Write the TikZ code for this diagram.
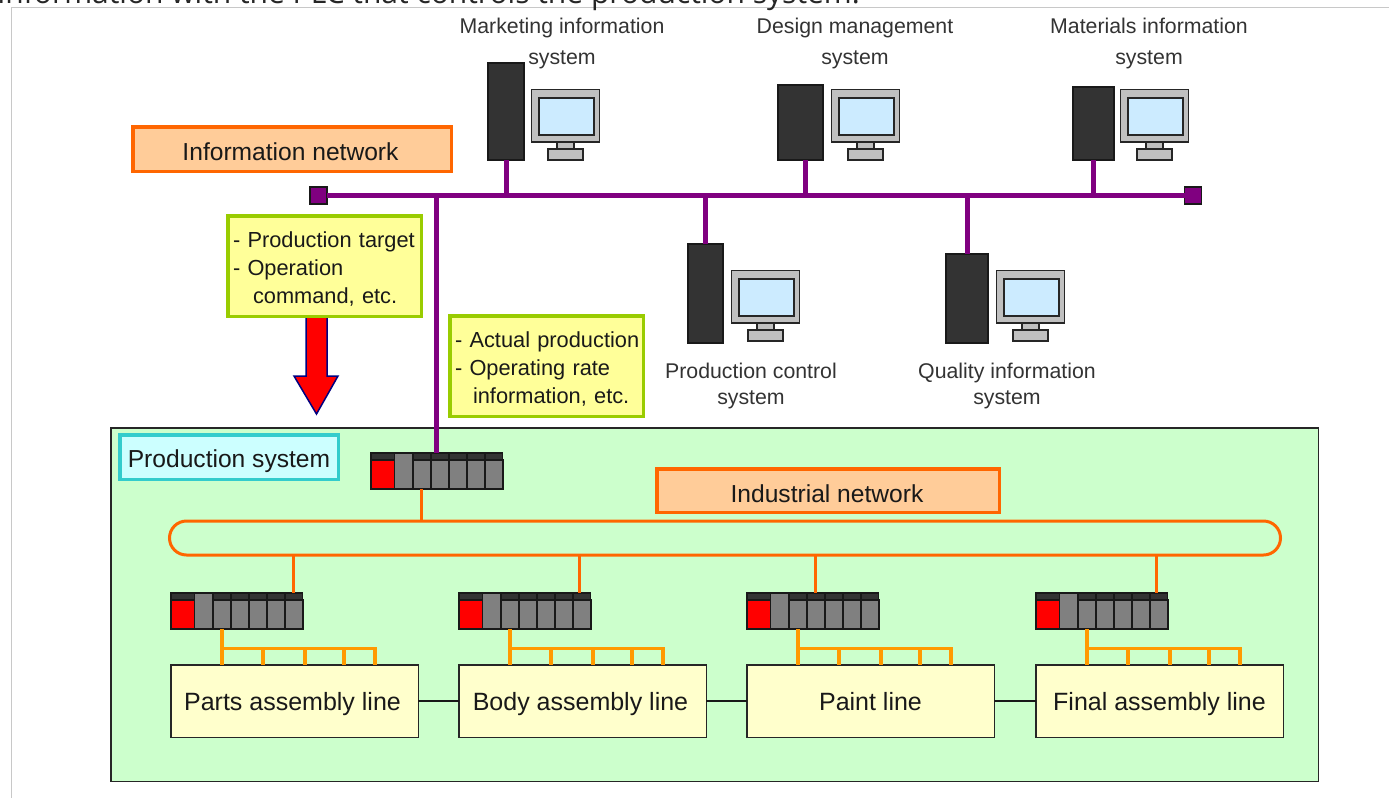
\documentclass[tikz,border=0pt]{standalone}
\usepackage{fontspec}
\setmainfont{Liberation Sans}
\newfontfamily\headfont{Open Sans}
\definecolor{busPurple}{HTML}{800080}
\definecolor{netOrange}{HTML}{FF6600}
\definecolor{tapOrange}{HTML}{FF9900}
\definecolor{netFill}{HTML}{FFCC99}
\definecolor{noteEdge}{HTML}{99CC00}
\definecolor{noteFill}{HTML}{FFFF99}
\definecolor{sysFill}{HTML}{CCFFCC}
\definecolor{tagEdge}{HTML}{33CCCC}
\definecolor{tagFill}{HTML}{CCFFFF}
\definecolor{lineFill}{HTML}{FFFFCC}
\definecolor{screenFill}{HTML}{CCEBFF}
\definecolor{darkBody}{HTML}{333333}
\definecolor{moduleGray}{HTML}{808080}
\definecolor{bodyGray}{HTML}{C0C0C0}
\definecolor{frameGray}{HTML}{C8C8C8}
\tikzset{
  sized/.style n args={2}{minimum width=#1pt,minimum height=#2pt,inner sep=0pt,outer sep=0pt,rectangle},
  bigtext/.style={font=\fontsize{24.6}{28}\selectfont,text=black!90},
  nettag/.style={draw=netOrange,line width=3.5pt,fill=netFill,bigtext,text height=25pt,text depth=2pt},
  systag/.style={draw=tagEdge,line width=3.5pt,fill=tagFill,bigtext,text height=25pt,text depth=4pt},
  notebox/.style={draw=noteEdge,line width=3.5pt,fill=noteFill,font=\fontsize{21.8}{28}\selectfont,text=black!90,
     align=left,text width=183pt,inner xsep=5.25pt,inner ysep=0pt,outer sep=0pt,rectangle},
  linebox/.style={draw=black!85,line width=1.5pt,fill=lineFill,bigtext,font=\fontsize{25}{28}\selectfont,text height=23pt,text depth=5pt},
  syslabel/.style={font=\fontsize{21.3}{#1}\selectfont,text=black!80,align=center,inner sep=0pt},
  syslabel/.default=26,
  tower/.style={draw=black!90,line width=1.2pt,fill=darkBody},
  infobus/.style={draw=busPurple,line width=5pt},
  industrial/.style={draw=netOrange,line width=3pt},
  tap/.style={draw=tapOrange,line width=3.5pt},
  busend/.style={draw=black!90,line width=1.2pt,fill=busPurple},
  wire/.style={draw=black!90,line width=1.5pt},
}
\newcommand{\plcunit}[3]{%
  \node[sized={131.5}{36.5},draw=black!90,line width=1.5pt,fill=moduleGray,anchor=north west] (#1) at (#2+0.75,#3+0.75) {};
  \begin{scope}[shift={(#2,#3)},line width=1.3pt,draw=black!90]
    \fill[darkBody] (0,1) rectangle (133,8);
    \filldraw[fill=red] (1,8) rectangle (24.5,37);
    \filldraw[fill=moduleGray] (24.5,0.75) rectangle (43,37);
    \foreach \mx in {43,61,79,97,115}{
      \filldraw[fill=moduleGray] (\mx,8) rectangle (\mx+18,37);
      \draw (\mx,0.75) -- (\mx,8);
    }
    \draw[line width=1.5pt] (0.75,0.75) rectangle (132.25,36.25);
  \end{scope}
}
\newcommand{\computerunit}[7]{%
  \node[sized={#4}{#5},tower,anchor=north west] (#1) at (#2,#3) {};
  \begin{scope}[shift={(#6,#7)},draw=black!85,line width=1.2pt]
    \filldraw[fill=bodyGray] (26,53) rectangle (43,60);
    \filldraw[fill=bodyGray] (17,60) rectangle (52,71);
    \filldraw[fill=bodyGray] (0.5,0.5) rectangle (68.5,53);
    \filldraw[fill=screenFill,line width=1.6pt] (8,9) rectangle (63,46);
  \end{scope}
}
\begin{document}
\begin{tikzpicture}[x=1pt,y=-1pt]
\useasboundingbox (0,0) rectangle (1389,798);
\fill[white] (0,0) rectangle (1389,798);
% page remnants
\draw[frameGray,line width=1.2pt] (1389,7.5) -- (11.5,7.5) -- (11.5,798);
\node[anchor=base east,inner sep=0pt,font=\headfont\fontsize{30}{34}\selectfont,text=black!85] (head) at (860,3) {information with the PLC that controls the production system.};

% production system frame
\node[sized={1207.5}{353.5},draw=black!85,line width=1.5pt,fill=sysFill] (prodframe) at (714.5,604.5) {};
\node[sized={218.5}{44.5},systag] (prodtag) at (229,457) {Production system};

% information network
\node[sized={318.5}{44.5},nettag] (infotag) at (292,149) {\hspace*{-3pt}Information network};
\node[sized={17}{17},busend] (busL) at (318.5,195.5) {};
\node[sized={17}{17},busend] (busR) at (1193,195.5) {};

% computers
\computerunit{tMarket}{488}{63}{36}{97}{531}{89}
\computerunit{tDesign}{778}{85}{45}{75}{831}{89}
\computerunit{tMater}{1073}{87}{41}{73}{1120}{89}
\computerunit{tProd}{688}{244}{35}{99}{731}{270}
\computerunit{tQual}{946}{254}{42}{89}{996}{270}

\draw[infobus] (busL) -- (busR);
\draw[infobus] (tMarket.south) -- (tMarket.south |- busL);
\draw[infobus] ([xshift=4.5pt]tDesign.south) -- ([xshift=4.5pt]tDesign.south |- busL);
\draw[infobus] (tMater.south) -- (tMater.south |- busL);
\draw[infobus] (tProd.north) -- (tProd.north |- busL);
\draw[infobus] (tQual.north) -- (tQual.north |- busL);

\node[syslabel=31] (lMarket) at (562,43.5) {Marketing information\\system};
\node[syslabel=31] (lDesign) at (855,43.5) {Design management\\system};
\node[syslabel=31] (lMater) at (1149,43.5) {Materials information\\system};
\node[syslabel] (lProd) at (751,386) {Production control\\system};
\node[syslabel] (lQual) at (1007,386) {Quality information\\system};

% command arrow
\filldraw[fill=red,draw=blue!50!black,line width=1.5pt,line join=miter]
  (306,316) -- (327,316) -- (327,376) -- (338,376) -- (316.5,414) -- (294,376) -- (306,376) -- cycle;

% note boxes
\node[notebox,minimum width=193.5pt,minimum height=100.5pt] (noteDown) at (324.5,266) {\rule{0pt}{22pt}\mbox{- Production target}\\\mbox{- Operation}\\\mbox{\hspace*{20pt}command, etc.}};
\node[notebox,minimum width=193.5pt,minimum height=100.5pt] (noteUp) at (546.5,366) {\rule{0pt}{22pt}\mbox{- Actual production}\\\mbox{- Operating rate}\\\mbox{\hspace*{18pt}information, etc.}};

% PLCs
\plcunit{plcTop}{370}{452}
\plcunit{plcA}{170}{592}
\plcunit{plcB}{458}{592}
\plcunit{plcC}{746}{592}
\plcunit{plcD}{1035}{592}

\draw[infobus] (plcTop.north) -- (plcTop.north |- busL);

% industrial network
\node[sized={342.5}{43.5},nettag] (indtag) at (828,490.5) {\hspace*{-2pt}Industrial network};
\node[sized={1111}{34},industrial,rounded corners=17pt] (ring) at (725,538) {};
\draw[industrial] ([xshift=51pt]plcTop.south west) -- ([xshift=51pt]plcTop.south west |- ring.north);
\draw[industrial] ([xshift=122.25pt]plcA.north west) -- ([xshift=122.25pt]plcA.north west |- ring.south);
\draw[industrial] ([xshift=120.25pt]plcB.north west) -- ([xshift=120.25pt]plcB.north west |- ring.south);
\draw[industrial] ([xshift=68.25pt]plcC.north west) -- ([xshift=68.25pt]plcC.north west |- ring.south);
\draw[industrial] ([xshift=120.25pt]plcD.north west) -- ([xshift=120.25pt]plcD.north west |- ring.south);

% assembly lines
\node[sized={247.5}{72.5},linebox] (lineA) at (294.5,701) {\hspace*{-4pt}Parts assembly line};
\node[sized={247.5}{72.5},linebox] (lineB) at (582.5,701) {\hspace*{-4pt}Body assembly line};
\node[sized={247.5}{72.5},linebox] (lineC) at (870.5,701) {Paint line};
\node[sized={247.5}{72.5},linebox] (lineD) at (1159.5,701) {Final assembly line};
\draw[wire] (lineA) -- (lineB);
\draw[wire] (lineB) -- (lineC);
\draw[wire] (lineC) -- (lineD);

% tap ladders
\foreach \p/\l in {plcA/lineA,plcB/lineB,plcC/lineC,plcD/lineD}{
  \draw[tap] ([xshift=51.25pt]\p.south west) -- ([xshift=51.25pt]\l.north west);
  \draw[tap,line join=miter] ([xshift=51.25pt,yshift=-19pt]\p.south west) -- ([xshift=204.25pt,yshift=-19pt]\p.south west) -- ([xshift=204.25pt]\l.north west);
  \foreach \o in {92.25,134.25,173.25}{
    \draw[tap] ([xshift=\o pt,yshift=-19pt]\p.south west) -- ([xshift=\o pt]\l.north west);
  }
}
\end{tikzpicture}
\end{document}
